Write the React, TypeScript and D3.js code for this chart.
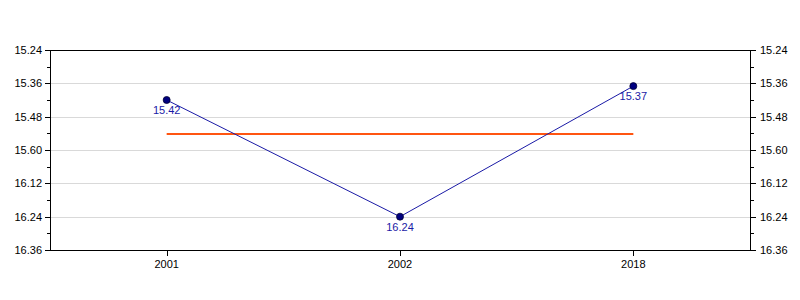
import React from "react";
import * as d3 from "d3";

const categories = ["2001", "2002", "2018"];
const values = [15.42, 16.24, 15.37];
const tickLabels = [15.24, 15.36, 15.48, 15.6, 16.12, 16.24, 16.36];

const toSec = (v: number) => {
  const m = Math.floor(v + 1e-9);
  return m * 60 + Math.round((v - m) * 100);
};

export default function App() {
  const W = 800, H = 300;
  const left = 50, right = 750, top = 50, bottom = 250;
  const x = d3.scalePoint<string>().domain(categories).range([left, right]).padding(0.5);
  const secTicks = tickLabels.map(toSec);
  const y = d3.scaleLinear().domain([secTicks[0], secTicks[secTicks.length - 1]]).range([top, bottom]);
  const secs = values.map(toSec);
  const mean = d3.mean(secs) as number;
  const line = d3.line<number>().x((_, i) => x(categories[i]) as number).y((d) => y(d));
  const minor: number[] = [];
  for (let i = 0; i < secTicks.length - 1; i++) minor.push((secTicks[i] + secTicks[i + 1]) / 2);
  const font = "Arial, 'Liberation Sans', sans-serif";
  const blue = "#1a1aa6";
  const c = (v: number) => Math.round(v) + 0.5;
  return (
    <svg width={W} height={H} style={{ position: "absolute", left: 0, top: 0, background: "#fff" }} fontFamily={font}>
      {secTicks.slice(1, -1).map((t, i) => (
        <line key={"g" + i} x1={left} x2={right} y1={c(y(t))} y2={c(y(t))} stroke="#d9d9d9" strokeWidth={1} />
      ))}
      <line x1={left} x2={right + 1} y1={c(top)} y2={c(top)} stroke="#000" strokeWidth={1} />
      <line x1={left} x2={right + 1} y1={c(bottom)} y2={c(bottom)} stroke="#000" strokeWidth={1} />
      <line x1={c(left)} x2={c(left)} y1={top} y2={bottom + 1} stroke="#000" strokeWidth={1} />
      <line x1={c(right)} x2={c(right)} y1={top} y2={bottom + 1} stroke="#000" strokeWidth={1} />
      {secTicks.map((t, i) => (
        <g key={"t" + i}>
          <line x1={left - 5} x2={left} y1={c(y(t))} y2={c(y(t))} stroke="#000" />
          <line x1={right} x2={right + 6} y1={c(y(t))} y2={c(y(t))} stroke="#000" />
          <text x={left - 8} y={y(t)} dy="0.35em" textAnchor="end" fontSize={11} fill="#000">
            {tickLabels[i].toFixed(2)}
          </text>
          <text x={right + 10} y={y(t)} dy="0.35em" textAnchor="start" fontSize={11} fill="#000">
            {tickLabels[i].toFixed(2)}
          </text>
        </g>
      ))}
      {minor.map((t, i) => (
        <g key={"m" + i}>
          <line x1={left - 3} x2={left} y1={c(y(t))} y2={c(y(t))} stroke="#000" />
          <line x1={right} x2={right + 4} y1={c(y(t))} y2={c(y(t))} stroke="#000" />
        </g>
      ))}
      {categories.map((cat) => (
        <g key={cat}>
          <line x1={c(x(cat) as number)} x2={c(x(cat) as number)} y1={bottom} y2={bottom + 6} stroke="#000" />
          <text x={x(cat)} y={bottom + 18} textAnchor="middle" fontSize={11} fill="#000">
            {cat}
          </text>
        </g>
      ))}
      <line
        x1={x(categories[0])}
        x2={x(categories[categories.length - 1])}
        y1={Math.round(y(mean))}
        y2={Math.round(y(mean))}
        stroke="#ff5511"
        strokeWidth={2}
      />
      <path d={line(secs) || ""} fill="none" stroke={blue} strokeWidth={1} />
      {secs.map((s, i) => (
        <g key={"p" + i}>
          <circle cx={x(categories[i])} cy={y(s)} r={3.5} fill="#000080" stroke="#000033" strokeWidth={0.8} />
          <text x={x(categories[i])} y={y(s) + 14} textAnchor="middle" fontSize={11} fill={blue}>
            {values[i].toFixed(2)}
          </text>
        </g>
      ))}
    </svg>
  );
}
